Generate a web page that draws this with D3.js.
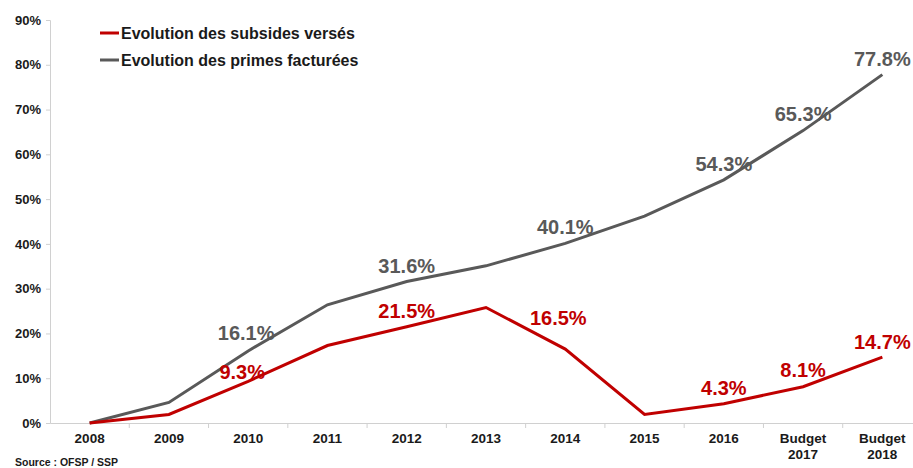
<!DOCTYPE html>
<html><head><meta charset="utf-8">
<script src="https://cdn.jsdelivr.net/npm/d3@7"></script>
<style>
html,body{margin:0;padding:0;background:#fff;}
svg{display:block;font-family:"Liberation Sans",Arial,sans-serif;}
</style></head>
<body><svg id="c" width="913" height="468"></svg>
<script>
const categories = ["2008","2009","2010","2011","2012","2013","2014","2015","2016","Budget 2017","Budget 2018"];
const subsides = [0, 1.9, 9.3, 17.3, 21.5, 25.8, 16.5, 1.9, 4.3, 8.1, 14.7];
const primes   = [0, 4.6, 16.1, 26.4, 31.6, 35.1, 40.1, 46.2, 54.3, 65.3, 77.8];
const subsidesLabels = [null,null,"9.3%",null,"21.5%",null,"16.5%",null,"4.3%","8.1%","14.7%"];
const primesLabels   = [null,null,"16.1%",null,"31.6%",null,"40.1%",null,"54.3%","65.3%","77.8%"];
const yTicks = [0,10,20,30,40,50,60,70,80,90];
const seriesNames = ["Evolution des subsides versés","Evolution des primes facturées"];

const RED = "#C00000", GRAY = "#595959";
const svg = d3.select("#c");
const x = d3.scaleBand().domain(categories).range([50, 922]).padding(0);
const y = d3.scaleLinear().domain([0, 90]).range([423, 20]);

// y axis
const ya = svg.append("g").attr("transform","translate(50,0)")
  .call(d3.axisLeft(y).tickValues(yTicks).tickFormat(d=>d+"%").tickSize(4).tickPadding(5));
ya.select(".domain").attr("stroke","#d0d0d0");
ya.selectAll(".tick line").attr("stroke","#d0d0d0");
ya.selectAll("text").attr("font-size",13).attr("font-weight","bold").attr("fill","#1a1a1a");

// x axis
const xa = svg.append("g").attr("transform","translate(0,423)")
  .call(d3.axisBottom(x).tickSize(0).tickFormat(""));
xa.select(".domain").attr("stroke","#d0d0d0");
xa.selectAll(".tick").remove();
svg.append("g").selectAll("line").data(categories.slice(1)).join("line")
  .attr("x1",d=>x(d)).attr("x2",d=>x(d)).attr("y1",423).attr("y2",428)
  .attr("stroke","#d0d0d0");
const cx = d => x(d)+x.bandwidth()/2;
const xl = svg.append("g").selectAll("text").data(categories).join("text")
  .attr("x",d=>cx(d)).attr("y",443)
  .attr("text-anchor","middle").attr("font-size",13.5).attr("font-weight","bold").attr("fill","#1a1a1a");
xl.each(function(d){
  const t = d3.select(this);
  d.split(" ").forEach((p,i)=>t.append("tspan").attr("x",cx(d)).attr("dy",i?16:0).text(p));
});

const line = d3.line().x((v,i)=>cx(categories[i])).y(v=>y(v));
svg.append("path").datum(primes).attr("d",line).attr("fill","none").attr("stroke",GRAY).attr("stroke-width",3);
svg.append("path").datum(subsides).attr("d",line).attr("fill","none").attr("stroke",RED).attr("stroke-width",3);

// label offsets (style only)
const primesDy = [0,0,-11,0,-9,0,-9,0,-9,-10,-9];
const primesDx = [0,0,-2,0,0,0,0,0,0,0,0];
const subsidesDy = [0,0,-2,0,-9,0,-24,0,-9,-10,-8];
const subsidesDx = [0,0,-6,0,0,0,-7,0,0,0,0];

const labG = svg.append("g").attr("font-size",20).attr("font-weight","bold").attr("text-anchor","middle");
primes.forEach((v,i)=>{
  if(!primesLabels[i]) return;
  labG.append("text").attr("x",cx(categories[i])+primesDx[i]).attr("y",y(v)+primesDy[i])
    .attr("fill",GRAY).text(primesLabels[i]);
});
subsides.forEach((v,i)=>{
  if(!subsidesLabels[i]) return;
  labG.append("text").attr("x",cx(categories[i])+subsidesDx[i]).attr("y",y(v)+subsidesDy[i])
    .attr("fill",RED).text(subsidesLabels[i]);
});

// legend
const lg = svg.append("g");
[[RED,33],[GRAY,60]].forEach(([c,yy],i)=>{
  lg.append("line").attr("x1",100).attr("x2",119).attr("y1",yy).attr("y2",yy).attr("stroke",c).attr("stroke-width",3);
  lg.append("text").attr("x",121).attr("y",yy+5.5).attr("font-size",16).attr("font-weight","bold")
    .attr("fill","#1a1a1a").text(seriesNames[i]);
});

svg.append("text").attr("x",15).attr("y",466).attr("font-size",10.5).attr("font-weight","bold")
  .attr("fill","#1a1a1a").text("Source : OFSP / SSP");
</script></body></html>
